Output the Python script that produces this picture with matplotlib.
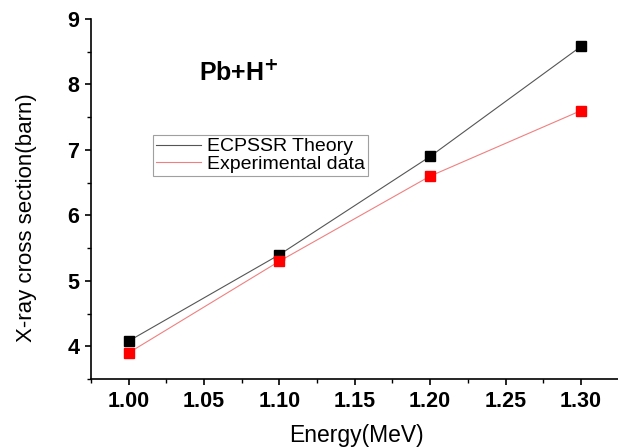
import matplotlib
matplotlib.use('Agg')
import matplotlib.pyplot as plt
from matplotlib.ticker import MultipleLocator, FormatStrFormatter

plt.rcParams['font.family'] = ['Liberation Sans', 'DejaVu Sans']

energy = [1.00, 1.10, 1.20, 1.30]
theory = [4.08, 5.40, 6.90, 8.58]
experimental = [3.90, 5.30, 6.60, 7.60]

fig = plt.figure(figsize=(6.18, 4.48), dpi=100)
# axes box: left spine at x=91px, bottom spine at y=379px, top at 19px
ax = fig.add_axes([91 / 618, (448 - 379) / 448, 527 / 618, 360 / 448])

ax.plot(energy, theory, '-', color='#555555', linewidth=0.8, label='ECPSSR Theory')
ax.plot(energy, experimental, '-', color='#f08080', linewidth=0.8, label='Experimental data')
ax.plot(energy, theory, 's', color='black', markersize=6.5, linestyle='none')
ax.plot(energy, experimental, 's', color='red', markersize=6.5, linestyle='none')

ax.set_xlim(0.975, 1.3246)
ax.set_ylim(3.5, 9.0)
ax.xaxis.set_major_locator(MultipleLocator(0.05))
ax.xaxis.set_minor_locator(MultipleLocator(0.025))
ax.xaxis.set_major_formatter(FormatStrFormatter('%.2f'))
ax.yaxis.set_major_locator(MultipleLocator(1))
ax.yaxis.set_minor_locator(MultipleLocator(0.5))

ax.spines['top'].set_visible(False)
ax.spines['right'].set_visible(False)
for s in ['left', 'bottom']:
    ax.spines[s].set_linewidth(1.2)
ax.tick_params(which='major', direction='out', length=4.5, width=1.2, labelsize=15.5, pad=4)
ax.tick_params(which='minor', direction='out', length=3, width=1.0)
for lbl in ax.get_xticklabels() + ax.get_yticklabels():
    lbl.set_fontweight('bold')

ax.set_xlabel('Energy(MeV)', fontsize=16.5)
ax.xaxis.set_label_coords(0.503, -0.125)
ax.set_ylabel('X-ray cross section(barn)', fontsize=16)
ax.yaxis.set_label_coords(-0.102, 0.447)

ax.text(1.0464, 8.07, r'Pb+H$^{\mathbf{+}}$', fontsize=18, fontweight='bold')

leg = ax.legend(loc='upper left', bbox_to_anchor=(0.118, 0.678), fontsize=14,
                frameon=True, fancybox=False, edgecolor='#888888',
                handlelength=2.3, handletextpad=0.32, borderpad=0.15, labelspacing=0.0,
                borderaxespad=0)
leg.get_frame().set_linewidth(0.8)

fig.savefig('out.png', dpi=100)
